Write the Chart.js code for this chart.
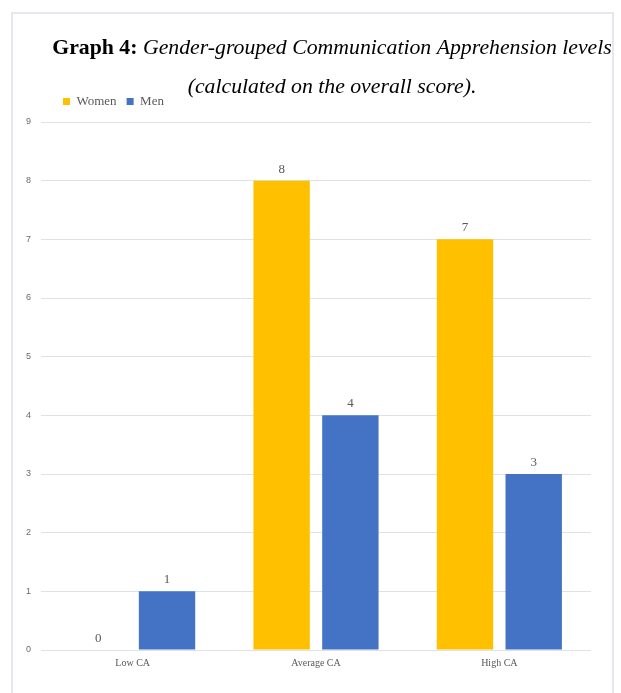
<!DOCTYPE html>
<html>
<head>
<meta charset="utf-8">
<script src="https://cdn.jsdelivr.net/npm/chart.js@4"></script>
<style>
  html, body { margin: 0; padding: 0; background: #fff; overflow: hidden; }
  .frame { position: absolute; left: 11px; top: 12px; width: 603px; height: 700px;
           border: 2px solid #e4e7ed; box-sizing: border-box; }
  canvas { position: absolute; left: 0; top: 0; }
</style>
</head>
<body>
<div class="frame"></div>
<canvas id="caChart" width="621" height="693"></canvas>
<script>
const levels = ['Low CA', 'Average CA', 'High CA'];
const women = [0, 8, 7];
const men = [1, 4, 3];
const yMax = 9;

const serif = '"Liberation Serif", "DejaVu Serif", serif';
const grey = '#595959';

// number above each bar
const valueLabels = {
  id: 'valueLabels',
  afterDatasetsDraw(chart) {
    const ctx = chart.ctx;
    ctx.save();
    ctx.font = '13px ' + serif;
    ctx.fillStyle = grey;
    ctx.textAlign = 'center';
    ctx.textBaseline = 'alphabetic';
    chart.data.datasets.forEach((ds, i) => {
      chart.getDatasetMeta(i).data.forEach((bar, j) => {
        ctx.fillText(String(ds.data[j]), bar.x, bar.y - 8);
      });
    });
    ctx.restore();
  }
};

// two-line heading: bold lead-in, italic rest, first line squeezed to 560px
const heading = {
  id: 'heading',
  afterDraw(chart) {
    const ctx = chart.ctx;
    const cx = 332;
    const lineWidth = 560;
    const lead = 'Graph 4: ';
    const rest = 'Gender-grouped Communication Apprehension levels';
    ctx.save();
    ctx.fillStyle = '#000';
    ctx.textBaseline = 'alphabetic';
    ctx.textAlign = 'left';

    const measure = (size) => {
      ctx.font = 'bold ' + size + 'px ' + serif;
      const a = ctx.measureText(lead).width;
      ctx.font = 'italic ' + size + 'px ' + serif;
      const b = ctx.measureText(rest).width;
      return [a, b];
    };
    let size = 23;
    let [wLead, wRest] = measure(size);
    size = size * lineWidth / (wLead + wRest);
    [wLead, wRest] = measure(size);

    const x = cx - (wLead + wRest) / 2;
    ctx.font = 'bold ' + size + 'px ' + serif;
    ctx.fillText(lead, x, 54);
    ctx.font = 'italic ' + size + 'px ' + serif;
    ctx.fillText(rest, x + wLead, 54);
    ctx.textAlign = 'center';
    ctx.fillText('(calculated on the overall score).', cx, 93);
    ctx.restore();
  }
};

// move the legend in from the plot's left edge and a bit up
const legendShift = {
  id: 'legendShift',
  afterLayout(chart) {
    const lg = chart.legend;
    if (lg) {
      lg.left += 12;
      lg.right += 12;
      lg.top -= 4;
      lg.bottom -= 4;
    }
  }
};

new Chart(document.getElementById('caChart'), {
  type: 'bar',
  data: {
    labels: levels,
    datasets: [
      { label: 'Women', data: women, backgroundColor: '#FFC000',
        categoryPercentage: 0.75, barPercentage: 0.82 },
      { label: 'Men', data: men, backgroundColor: '#4472C4',
        categoryPercentage: 0.75, barPercentage: 0.82 }
    ]
  },
  options: {
    responsive: false,
    animation: false,
    devicePixelRatio: 1,
    layout: { padding: { left: 11, right: 30, top: 89, bottom: 17 } },
    plugins: {
      legend: {
        position: 'top',
        align: 'start',
        fullSize: false,
        labels: {
          boxWidth: 7,
          boxHeight: 7,
          padding: 10,
          color: grey,
          font: { family: serif, size: 13 }
        }
      },
      tooltip: { enabled: false }
    },
    scales: {
      x: {
        grid: { display: false, drawTicks: false },
        border: { display: false },
        ticks: { color: grey, padding: 7, font: { family: serif, size: 10 } }
      },
      y: {
        min: 0,
        max: yMax,
        border: { display: false },
        grid: { color: '#dde1e8', drawTicks: false },
        ticks: { stepSize: 1, padding: 10, color: '#666a73',
                 font: { family: '"Liberation Sans", sans-serif', size: 9 } },
        afterFit(scale) { scale.width = 30; }
      }
    }
  },
  plugins: [valueLabels, heading, legendShift]
});
</script>
</body>
</html>
